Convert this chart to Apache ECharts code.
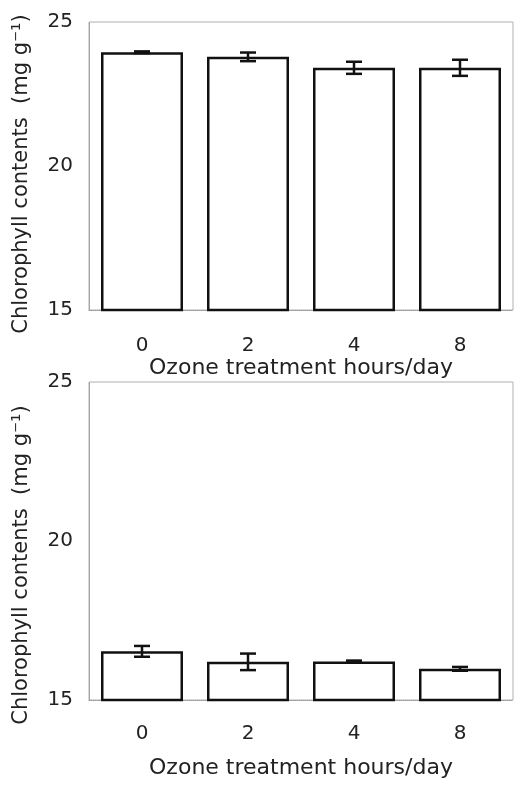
<!DOCTYPE html>
<html>
<head>
    <meta charset="UTF-8">
    <title>Chlorophyll contents</title>
    <script type="text/javascript" src="https://cdn.jsdelivr.net/npm/echarts@6/dist/echarts.min.js"></script>
    <style>
        body,html{
            margin: 0;
            padding: 0;
            width: 514px;
            height: 786px;
            background: #fff;
        }
        #chart{
            width: 514px;
            height: 786px;
        }
    </style>
</head>
<body>
<div id="chart"></div>
<script>
    // data
    var hours = ['0', '2', '4', '8'];
    var topValues = [23.95, 23.79, 23.41, 23.41];
    var topErrors = [0.03, 0.15, 0.21, 0.28];
    var bottomValues = [16.53, 16.2, 16.21, 15.98];
    var bottomErrors = [0.17, 0.26, 0.03, 0.06];
    var yTicks = [15, 20, 25];

    var fontFam = 'DejaVu Sans';
    var yTitle = 'Chlorophyll contents  (mg g\u207B\u00B9)';
    var xTitle = 'Ozone treatment hours/day';

    // error bar drawing
    function errorRender(values, errors) {
        return function (params, api) {
            var i = api.value(0);
            var v = values[i];
            var e = errors[i];
            var hi = api.coord([i, v + e]);
            var lo = api.coord([i, v - e]);
            var half = 8;
            var st = { stroke: '#111', lineWidth: 2.5 };
            return {
                type: 'group',
                children: [
                    { type: 'line', shape: { x1: hi[0], y1: hi[1], x2: lo[0], y2: lo[1] }, style: st },
                    { type: 'line', shape: { x1: hi[0] - half, y1: hi[1], x2: hi[0] + half, y2: hi[1] }, style: st },
                    { type: 'line', shape: { x1: lo[0] - half, y1: lo[1], x2: lo[0] + half, y2: lo[1] }, style: st }
                ]
            };
        };
    }

    function xAxisFor(idx, labelMargin, nameGap) {
        return {
            type: 'category',
            gridIndex: idx,
            data: hours,
            axisTick: { show: false },
            axisLine: { lineStyle: { color: '#999', width: 1, type: 'dotted' } },
            axisLabel: { margin: labelMargin, fontSize: 20, color: '#222', fontFamily: fontFam },
            name: xTitle,
            nameLocation: 'middle',
            nameGap: nameGap,
            nameTextStyle: { fontSize: 22, color: '#222', fontFamily: fontFam }
        };
    }

    // shiftDown moves the rotated title down the page
    function yAxisFor(idx, shiftDown) {
        return {
            type: 'value',
            gridIndex: idx,
            min: yTicks[0],
            max: yTicks[yTicks.length - 1],
            interval: 5,
            axisTick: { show: false },
            axisLine: { show: true, lineStyle: { color: '#999', width: 1, type: 'dotted' } },
            splitLine: { show: false },
            axisLabel: { margin: 16, fontSize: 20, color: '#222', fontFamily: fontFam },
            name: yTitle,
            nameLocation: 'middle',
            nameRotate: 90,
            nameGap: 57,
            nameTextStyle: { fontSize: 21, color: '#222', fontFamily: fontFam, padding: [0, shiftDown * 2, 0, 0] }
        };
    }

    var echart = echarts.init(document.getElementById('chart'));
    var option = {
        animation: false,
        backgroundColor: '#fff',
        grid: [
            { left: 89, right: 1, top: 22, height: 288, show: true, borderColor: '#b0b0b0', borderWidth: 1 },
            { left: 89, right: 1, top: 382, height: 318, show: true, borderColor: '#b0b0b0', borderWidth: 1 }
        ],
        xAxis: [xAxisFor(0, 26, 46), xAxisFor(1, 24, 57)],
        yAxis: [yAxisFor(0, 8), yAxisFor(1, 24)],
        series: [
            {
                type: 'bar',
                xAxisIndex: 0,
                yAxisIndex: 0,
                data: topValues,
                barWidth: 82,
                itemStyle: { color: '#fff', borderColor: '#111', borderWidth: 2.5 }
            },
            {
                type: 'custom',
                xAxisIndex: 0,
                yAxisIndex: 0,
                data: topValues.map(function (v, i) { return [i, v]; }),
                renderItem: errorRender(topValues, topErrors),
                z: 5
            },
            {
                type: 'bar',
                xAxisIndex: 1,
                yAxisIndex: 1,
                data: bottomValues,
                barWidth: 82,
                itemStyle: { color: '#fff', borderColor: '#111', borderWidth: 2.5 }
            },
            {
                type: 'custom',
                xAxisIndex: 1,
                yAxisIndex: 1,
                data: bottomValues.map(function (v, i) { return [i, v]; }),
                renderItem: errorRender(bottomValues, bottomErrors),
                z: 5
            }
        ]
    };
    echart.setOption(option);
</script>
</body>
</html>
